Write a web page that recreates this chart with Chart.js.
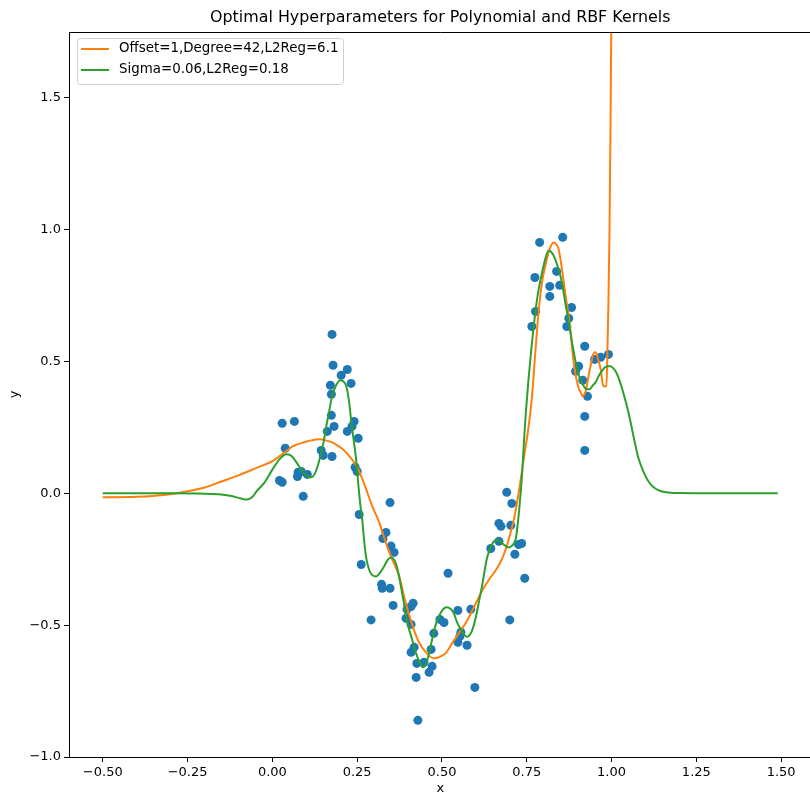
<!DOCTYPE html>
<html>
<head>
<meta charset="utf-8">
<script src="https://cdn.jsdelivr.net/npm/chart.js@4.4.1/dist/chart.umd.min.js"></script>
<style>
  html, body { margin: 0; padding: 0; background: #fff; overflow: hidden; }
  #wrap { width: 816px; height: 797px; }
</style>
</head>
<body>
<div id="wrap"><canvas id="chart" width="816" height="797"></canvas></div>
<script>
// scatter samples
let pointX = [
  0.021, 0.029, 0.029, 0.038, 0.065, 0.074, 0.076, 0.085, 0.091, 0.103,
  0.144, 0.150, 0.162, 0.171, 0.174, 0.174, 0.176, 0.176, 0.179, 0.182,
  0.203, 0.221, 0.221, 0.232, 0.235, 0.241, 0.244, 0.250, 0.253, 0.256,
  0.262, 0.291, 0.324, 0.322, 0.326, 0.335, 0.347, 0.347, 0.350, 0.356,
  0.359, 0.394, 0.397, 0.409, 0.409, 0.409, 0.415, 0.418, 0.424, 0.426,
  0.429, 0.447, 0.462, 0.468, 0.471, 0.476, 0.494, 0.506, 0.518, 0.547,
  0.547, 0.553, 0.556, 0.574, 0.585, 0.597, 0.644, 0.668, 0.668, 0.674,
  0.691, 0.700, 0.703, 0.706, 0.715, 0.726, 0.735, 0.744, 0.765, 0.774,
  0.776, 0.788, 0.818, 0.818, 0.838, 0.847, 0.856, 0.868, 0.874, 0.882,
  0.894, 0.903, 0.915, 0.921, 0.921, 0.921, 0.929, 0.950, 0.968, 0.991,
];
let pointY = [
  0.049, 0.042, 0.266, 0.171, 0.273, 0.064, 0.080, 0.083, -0.011, 0.072,
  0.163, 0.144, 0.235, 0.410, 0.376, 0.296, 0.603, 0.140, 0.486, 0.254,
  0.448, 0.470, 0.235, 0.417, 0.254, 0.273, 0.099, 0.083, 0.209, -0.080,
  -0.270, -0.480, -0.360, -0.345, -0.171, -0.148, -0.035, -0.360, -0.200, -0.425,
  -0.224, -0.474, -0.440, -0.429, -0.497, -0.603, -0.417, -0.584, -0.698, -0.645,
  -0.861, -0.641, -0.679, -0.592, -0.656, -0.531, -0.478, -0.490, -0.303, -0.444,
  -0.565, -0.542, -0.527, -0.576, -0.440, -0.736, -0.209, -0.182, -0.114, -0.125,
  0.004, -0.480, -0.121, -0.038, -0.231, -0.194, -0.190, -0.322, 0.633, 0.819,
  0.690, 0.952, 0.785, 0.747, 0.842, 0.789, 0.971, 0.633, 0.664, 0.705,
  0.463, 0.482, 0.429, 0.558, 0.292, 0.163, 0.368, 0.508, 0.516, 0.527,
];

// polynomial kernel fit
let polyX = [
  -0.5, -0.4, -0.3, -0.25, -0.2, -0.15, -0.1, -0.05, 0.0, 0.035,
  0.06, 0.094, 0.115, 0.138, 0.16, 0.182, 0.205, 0.221, 0.25, 0.271,
  0.295, 0.315, 0.338, 0.355, 0.374, 0.39, 0.403, 0.418, 0.432, 0.456,
  0.475, 0.49, 0.512, 0.529, 0.55, 0.571, 0.595, 0.618, 0.64, 0.662,
  0.68, 0.691, 0.702, 0.712, 0.722, 0.732, 0.741, 0.753, 0.765, 0.775,
  0.785, 0.795, 0.806, 0.817, 0.829, 0.837, 0.844, 0.855, 0.865, 0.877,
  0.888, 0.897, 0.903, 0.909, 0.915, 0.92, 0.926, 0.932, 0.941, 0.947,
  0.953, 0.96, 0.968, 0.976, 0.985, 0.988, 0.991, 0.994, 0.997, 1.0,
  1.005, 1.02,
];
let polyY = [
  -0.015, -0.013, -0.003, 0.008, 0.022, 0.045, 0.068, 0.095, 0.122, 0.155,
  0.178, 0.194, 0.201, 0.205, 0.2, 0.19, 0.17, 0.15, 0.1, 0.035,
  -0.05, -0.11, -0.2, -0.255, -0.315, -0.4, -0.46, -0.52, -0.565, -0.608,
  -0.625, -0.622, -0.605, -0.57, -0.53, -0.49, -0.43, -0.37, -0.325, -0.285,
  -0.24, -0.2, -0.15, -0.1, -0.03, 0.05, 0.13, 0.23, 0.36, 0.53,
  0.69, 0.8, 0.87, 0.925, 0.952, 0.945, 0.926, 0.84, 0.745, 0.64,
  0.5, 0.43, 0.4, 0.383, 0.368, 0.375, 0.4, 0.444, 0.5, 0.53,
  0.535, 0.51, 0.47, 0.406, 0.406, 0.55, 0.736, 1.0, 1.4, 1.9,
  3.0, 10.0,
];

// rbf kernel fit
let rbfX = [
  -0.5, -0.3, -0.2, -0.15, -0.12, -0.1, -0.085, -0.074, -0.06, -0.045,
  -0.024, 0.0, 0.006, 0.02, 0.041, 0.055, 0.065, 0.075, 0.085, 0.097,
  0.109, 0.117, 0.124, 0.134, 0.144, 0.152, 0.159, 0.168, 0.176, 0.188,
  0.2, 0.209, 0.218, 0.226, 0.232, 0.24, 0.247, 0.253, 0.26, 0.265,
  0.27, 0.276, 0.283, 0.291, 0.306, 0.318, 0.329, 0.34, 0.35, 0.358,
  0.365, 0.372, 0.379, 0.387, 0.394, 0.403, 0.412, 0.422, 0.432, 0.444,
  0.45, 0.456, 0.463, 0.471, 0.48, 0.491, 0.503, 0.515, 0.525, 0.535,
  0.545, 0.556, 0.566, 0.574, 0.588, 0.596, 0.603, 0.61, 0.618, 0.625,
  0.632, 0.64, 0.647, 0.655, 0.662, 0.672, 0.682, 0.69, 0.697, 0.705,
  0.712, 0.718, 0.724, 0.73, 0.736, 0.742, 0.747, 0.755, 0.763, 0.771,
  0.782, 0.794, 0.806, 0.814, 0.82, 0.828, 0.835, 0.845, 0.853, 0.864,
  0.874, 0.884, 0.894, 0.903, 0.912, 0.919, 0.926, 0.935, 0.945, 0.953,
  0.962, 0.971, 0.98, 0.988, 0.996, 1.004, 1.012, 1.021, 1.035, 1.05,
  1.065, 1.079, 1.095, 1.109, 1.125, 1.14, 1.16, 1.2, 1.3, 1.49,
];
let rbfY = [
  0.0, 0.0, -0.001, -0.004, -0.01, -0.017, -0.022, -0.023, -0.015, 0.01,
  0.04, 0.09, 0.102, 0.128, 0.148, 0.143, 0.129, 0.11, 0.091, 0.072,
  0.061, 0.062, 0.072, 0.105, 0.155, 0.2, 0.254, 0.315, 0.368, 0.41,
  0.429, 0.425, 0.406, 0.35, 0.281, 0.2, 0.129, 0.04, -0.05, -0.1,
  -0.17, -0.239, -0.28, -0.305, -0.315, -0.3, -0.278, -0.252, -0.243, -0.25,
  -0.269, -0.305, -0.353, -0.41, -0.467, -0.515, -0.554, -0.6, -0.635, -0.66,
  -0.655, -0.637, -0.6, -0.554, -0.505, -0.467, -0.44, -0.432, -0.438, -0.455,
  -0.49, -0.516, -0.537, -0.544, -0.523, -0.49, -0.451, -0.405, -0.353, -0.3,
  -0.25, -0.215, -0.194, -0.18, -0.176, -0.183, -0.194, -0.202, -0.205, -0.2,
  -0.19, -0.17, -0.11, -0.03, 0.07, 0.2, 0.3, 0.43, 0.54, 0.64,
  0.75, 0.83, 0.895, 0.92, 0.918, 0.905, 0.885, 0.845, 0.804, 0.72,
  0.65, 0.57, 0.5, 0.45, 0.42, 0.405, 0.395, 0.395, 0.41, 0.421,
  0.445, 0.463, 0.477, 0.482, 0.482, 0.476, 0.463, 0.437, 0.38, 0.307,
  0.215, 0.135, 0.08, 0.045, 0.022, 0.011, 0.004, 0.001, 0.0, 0.0,
];

let xTicks = [-0.5, -0.25, 0, 0.25, 0.5, 0.75, 1.0, 1.25, 1.5];
let yTicks = [-1.0, -0.5, 0.0, 0.5, 1.0, 1.5];

let chartTitle = "Optimal Hyperparameters for Polynomial and RBF Kernels";
let polyLabel = "Offset=1,Degree=42,L2Reg=6.1";
let rbfLabel = "Sigma=0.06,L2Reg=0.18";

const FONT = "'DejaVu Sans', sans-serif";

function toPoints(xs, ys) {
  return xs.map((x, i) => ({ x: x, y: ys[i] }));
}

function fmt(v, digits) {
  let s = Math.abs(v).toFixed(digits);
  return v < -1e-9 ? "\u2212" + s : s;
}

// title, axis labels, top spine and the legend box
const decorations = {
  id: "decorations",
  afterDraw(chart) {
    const ctx = chart.ctx;
    const area = chart.chartArea;
    ctx.save();

    ctx.strokeStyle = "#000";
    ctx.lineWidth = 1;
    ctx.beginPath();
    ctx.moveTo(area.left, area.top + 0.5);
    ctx.lineTo(area.right, area.top + 0.5);
    ctx.moveTo(area.right - 0.5, area.top);
    ctx.lineTo(area.right - 0.5, area.bottom);
    ctx.stroke();

    ctx.fillStyle = "#000";
    ctx.textAlign = "center";
    ctx.textBaseline = "middle";
    ctx.font = "15.9px " + FONT;
    ctx.fillText(chartTitle, (area.left + area.right) / 2, 18);

    ctx.font = "13px " + FONT;
    ctx.fillText("x", (area.left + area.right) / 2, 789);
    ctx.save();
    ctx.translate(15, (area.top + area.bottom) / 2);
    ctx.rotate(-Math.PI / 2);
    ctx.fillText("y", 0, 0);
    ctx.restore();

    // legend
    const bx = area.left + 8, by = area.top + 6, bw = 266, bh = 46;
    ctx.beginPath();
    ctx.roundRect(bx + 0.5, by + 0.5, bw, bh, 3);
    ctx.fillStyle = "rgba(255,255,255,0.8)";
    ctx.fill();
    ctx.strokeStyle = "#d0d0d0";
    ctx.stroke();

    const rows = [
      { label: polyLabel, color: "#ff7f0e", y: by + 11 },
      { label: rbfLabel, color: "#2ca02c", y: by + 32 },
    ];
    ctx.textAlign = "left";
    ctx.font = "13.4px " + FONT;
    rows.forEach((r) => {
      ctx.strokeStyle = r.color;
      ctx.lineWidth = 2;
      ctx.beginPath();
      ctx.moveTo(bx + 4, r.y);
      ctx.lineTo(bx + 32, r.y);
      ctx.stroke();
      ctx.fillStyle = "#000";
      ctx.fillText(r.label, bx + 42, r.y);
    });

    ctx.restore();
  },
};

function axisStyle(ticks, digits, fitFn) {
  return {
    type: "linear",
    grid: { drawOnChartArea: false, drawTicks: true, tickLength: 5, color: "#000" },
    border: { display: true, color: "#000", width: 1 },
    ticks: {
      color: "#000",
      font: { family: FONT, size: 13 },
      padding: 3,
      autoSkip: false,
      maxRotation: 0,
      callback: (v) => fmt(v, digits),
    },
    afterBuildTicks: (scale) => {
      scale.ticks = ticks.map((v) => ({ value: v }));
    },
    afterFit: fitFn,
  };
}

let xScale = axisStyle(xTicks, 2, (s) => { s.height = 40; });
xScale.min = -0.5995;
xScale.max = 1.5895;
let yScale = axisStyle(yTicks, 1, (s) => { s.width = 69; });
yScale.min = -1.0;
yScale.max = 1.75;

new Chart(document.getElementById("chart"), {
  type: "scatter",
  data: {
    datasets: [
      {
        label: rbfLabel,
        data: toPoints(rbfX, rbfY),
        showLine: true,
        borderColor: "#2ca02c",
        borderWidth: 2,
        pointRadius: 0,
        cubicInterpolationMode: "monotone",
      },
      {
        label: polyLabel,
        data: toPoints(polyX, polyY),
        showLine: true,
        borderColor: "#ff7f0e",
        borderWidth: 2,
        pointRadius: 0,
        cubicInterpolationMode: "monotone",
      },
      {
        label: "data",
        data: toPoints(pointX, pointY),
        backgroundColor: "#1f77b4",
        borderWidth: 0,
        pointRadius: 4.5,
      },
    ],
  },
  options: {
    responsive: false,
    animation: false,
    devicePixelRatio: 1,
    layout: { padding: { top: 32, right: 3, left: 0, bottom: 0 } },
    scales: { x: xScale, y: yScale },
    plugins: {
      legend: { display: false },
      title: { display: false },
      tooltip: { enabled: false },
    },
  },
  plugins: [decorations],
});
</script>
</body>
</html>
